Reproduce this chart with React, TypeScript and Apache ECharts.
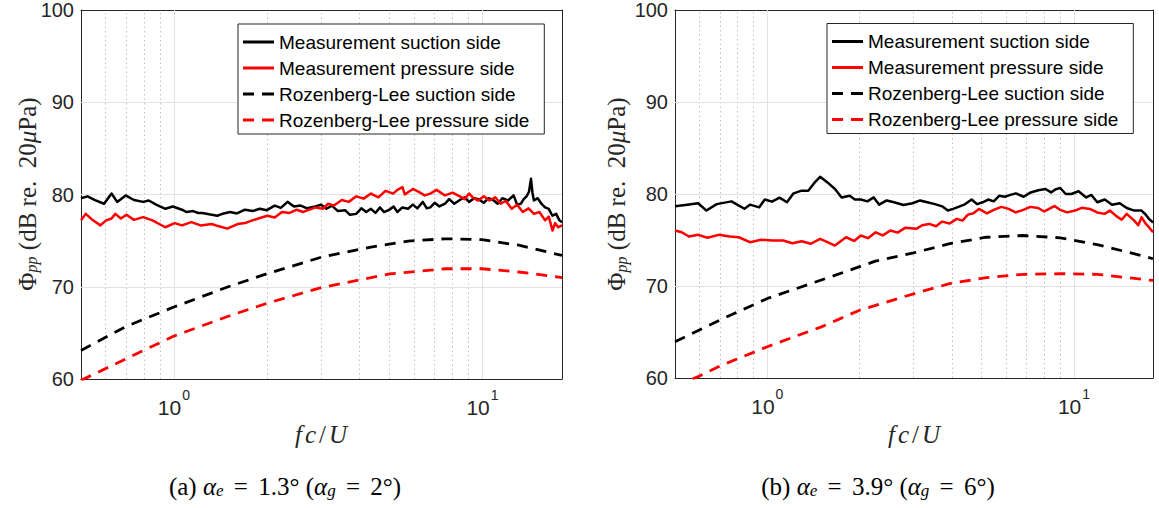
import React, { useEffect, useRef } from 'react';
import * as echarts from 'echarts';

type Pt = [number, number];

const SERIES_NAMES = [
  'Measurement suction side',
  'Measurement pressure side',
  'Rozenberg-Lee suction side',
  'Rozenberg-Lee pressure side',
];

const X_MIN = 0.5;
const X_MAX = 18.1;
const Y_MIN = 60;
const Y_MAX = 100;
const Y_STEP = 10;
const Y_MAJOR = [70, 80, 90];
const X_MAJOR = [1, 10];
const X_MINOR = [0.6, 0.7, 0.8, 0.9, 2, 3, 4, 5, 6, 7, 8, 9];

// ---- panel (a) ----
const measSuctionA: Pt[] = [
  [0.5, 79.6], [0.525, 79.8], [0.555, 79.4], [0.594, 79.0], [0.628, 80.1], [0.655, 79.2], [0.698, 79.9],
  [0.742, 79.4], [0.795, 79.2], [0.829, 79.35], [0.876, 78.9], [0.938, 78.45], [0.992, 78.7], [1.062, 78.35],
  [1.1, 78.1], [1.154, 78.2], [1.2, 78.0], [1.237, 78.0], [1.3, 77.85], [1.382, 77.7], [1.45, 77.95],
  [1.522, 78.1], [1.6, 77.95], [1.7, 78.35], [1.8, 78.2], [1.898, 78.45], [2.0, 78.3], [2.122, 78.8],
  [2.22, 78.55], [2.335, 79.2], [2.45, 78.7], [2.574, 78.8], [2.7, 78.5], [2.873, 78.7], [3.0, 78.9],
  [3.122, 78.45], [3.25, 78.8], [3.4, 78.2], [3.586, 78.3], [3.72, 77.8], [3.896, 77.9], [4.05, 78.5],
  [4.2, 78.1], [4.35, 78.45], [4.5, 78.0], [4.65, 78.6], [4.8, 78.1], [4.996, 78.35], [5.15, 78.7],
  [5.3, 78.1], [5.5, 78.6], [5.738, 78.45], [5.95, 78.9], [6.15, 78.5], [6.408, 79.2], [6.6, 78.5],
  [6.773, 78.6], [7.0, 79.1], [7.25, 78.7], [7.561, 79.0], [7.8, 79.5], [8.1, 79.0], [8.444, 79.4],
  [8.75, 79.7], [9.05, 79.2], [9.4, 79.6], [9.698, 79.5], [10.1, 79.1], [10.45, 79.6], [10.83, 79.4],
  [11.2, 79.0], [11.6, 79.6], [12.1, 79.35], [12.61, 79.9], [12.95, 78.9], [13.32, 79.0], [13.6, 79.5],
  [13.89, 79.8], [14.15, 80.3], [14.36, 81.7], [14.52, 80.2], [14.68, 79.35], [15.1, 79.6], [15.52, 79.0],
  [15.95, 78.6], [16.39, 78.45], [16.85, 77.7], [17.33, 77.9], [17.75, 77.2], [18.1, 77.0],
];
const measPressureA: Pt[] = [
  [0.5, 77.2], [0.518, 77.9], [0.547, 77.2], [0.578, 76.65], [0.603, 77.2], [0.628, 77.4], [0.646, 77.9],
  [0.673, 77.4], [0.702, 77.8], [0.742, 77.25], [0.795, 77.55], [0.852, 77.2], [0.938, 76.45], [1.006, 76.9],
  [1.062, 76.65], [1.139, 77.0], [1.22, 76.65], [1.326, 76.8], [1.4, 76.55], [1.489, 76.3], [1.608, 76.8],
  [1.7, 76.9], [1.797, 77.2], [1.9, 77.45], [2.007, 77.7], [2.12, 77.5], [2.241, 78.1], [2.37, 78.0],
  [2.504, 78.35], [2.62, 78.1], [2.72, 78.3], [2.88, 78.6], [3.038, 78.45], [3.16, 79.0], [3.3, 78.8],
  [3.5, 79.4], [3.686, 79.2], [3.9, 79.8], [4.119, 79.55], [4.35, 80.1], [4.599, 79.7], [4.85, 80.4],
  [5.135, 80.1], [5.3, 80.5], [5.504, 80.8], [5.6, 80.0], [5.738, 80.25], [5.95, 80.6], [6.232, 80.25],
  [6.5, 79.9], [6.773, 80.1], [7.1, 80.5], [7.561, 79.9], [8.0, 80.2], [8.444, 79.8], [8.75, 79.5],
  [9.052, 80.1], [9.35, 79.6], [9.698, 79.35], [10.1, 79.8], [10.54, 79.35], [11.0, 79.7], [11.45, 79.0],
  [11.9, 79.3], [12.44, 78.45], [12.95, 78.9], [13.51, 78.1], [14.1, 78.5], [14.68, 77.9], [15.3, 78.1],
  [15.95, 77.2], [16.4, 77.6], [16.86, 76.1], [17.2, 76.9], [17.58, 76.45], [18.1, 76.65],
];
const rlSuctionA: Pt[] = [
  [0.5, 63.1], [0.7, 65.7], [1.0, 67.8], [1.5, 70.0], [2.0, 71.4], [3.0, 73.2], [4.35, 74.3],
  [5.74, 74.95], [7.56, 75.2], [9.96, 75.1], [13.1, 74.5], [18.1, 73.4],
];
const rlPressureA: Pt[] = [
  [0.5, 59.85], [0.7, 62.2], [1.0, 64.65], [1.5, 66.8], [2.0, 68.2], [3.0, 69.9], [5.0, 71.4],
  [7.56, 71.95], [9.96, 71.95], [13.1, 71.6], [18.1, 71.0],
];

// ---- panel (b) ----
const measSuctionB: Pt[] = [
  [0.5, 78.66], [0.548, 78.84], [0.595, 79.0], [0.633, 78.2], [0.684, 78.9], [0.764, 79.2], [0.842, 78.4],
  [0.878, 78.84], [0.941, 78.55], [0.981, 79.4], [1.036, 79.17], [1.096, 79.6], [1.159, 79.1], [1.218, 80.07],
  [1.294, 80.36], [1.36, 80.36], [1.427, 81.26], [1.487, 81.87], [1.571, 81.26], [1.662, 80.54], [1.747, 79.63],
  [1.856, 79.8], [1.93, 79.4], [2.017, 79.4], [2.12, 79.2], [2.223, 79.63], [2.317, 78.84], [2.45, 79.3],
  [2.589, 79.1], [2.78, 78.8], [2.975, 79.0], [3.15, 79.3], [3.323, 79.1], [3.52, 78.9], [3.715, 78.66],
  [3.88, 78.2], [4.038, 78.38], [4.2, 78.6], [4.387, 78.84], [4.636, 79.4], [4.83, 78.9], [5.038, 79.1],
  [5.25, 79.4], [5.474, 79.2], [5.7, 79.8], [5.951, 79.7], [6.2, 79.9], [6.466, 80.07], [6.85, 79.7],
  [7.228, 80.17], [7.65, 80.4], [8.073, 80.54], [8.417, 80.17], [8.7, 80.5], [9.02, 80.65], [9.4, 80.0],
  [9.802, 80.0], [10.35, 80.3], [10.96, 79.63], [11.4, 79.9], [11.91, 79.1], [12.6, 79.4], [13.3, 78.84],
  [14.1, 79.0], [14.86, 78.48], [15.72, 78.2], [16.61, 78.2], [17.1, 77.8], [17.55, 77.3], [18.1, 76.9],
];
const measPressureB: Pt[] = [
  [0.5, 76.03], [0.526, 75.84], [0.555, 75.38], [0.595, 75.56], [0.638, 75.24], [0.694, 75.56], [0.754, 75.38],
  [0.807, 75.3], [0.878, 74.76], [0.954, 75.02], [1.036, 74.95], [1.126, 74.95], [1.208, 74.65], [1.294, 74.87],
  [1.387, 74.59], [1.487, 75.13], [1.571, 74.76], [1.662, 74.4], [1.806, 75.3], [1.92, 74.9], [2.017, 75.49],
  [2.13, 75.2], [2.255, 75.84], [2.38, 75.5], [2.519, 76.03], [2.66, 75.8], [2.813, 76.32], [3.058, 76.21],
  [3.2, 76.6], [3.372, 76.75], [3.55, 76.5], [3.715, 77.0], [3.93, 76.8], [4.15, 77.3], [4.33, 77.1],
  [4.51, 77.76], [4.7, 77.9], [4.901, 78.38], [5.2, 77.9], [5.474, 78.27], [5.8, 78.6], [6.121, 78.38],
  [6.45, 78.0], [6.837, 78.27], [7.2, 78.6], [7.637, 78.48], [8.0, 78.1], [8.3, 78.38], [8.65, 78.7],
  [9.02, 78.27], [9.5, 78.0], [10.08, 78.2], [10.6, 78.5], [11.27, 78.38], [11.9, 78.0], [12.58, 77.84],
  [13.1, 78.2], [13.68, 77.65], [14.3, 77.2], [14.86, 77.84], [15.72, 77.1], [16.2, 76.6], [16.61, 77.47],
  [17.1, 76.8], [17.55, 76.39], [18.1, 75.84],
];
const rlSuctionB: Pt[] = [
  [0.5, 63.94], [0.7, 66.3], [1.0, 68.64], [1.5, 70.65], [2.0, 72.1], [2.25, 72.7], [3.0, 73.6],
  [3.93, 74.6], [5.18, 75.3], [6.84, 75.49], [9.02, 75.24], [11.9, 74.5], [17.1, 73.2], [18.1, 72.96],
];
const rlPressureB: Pt[] = [
  [0.5, 59.06], [0.595, 60.15], [0.7, 61.3], [1.0, 63.4], [1.5, 65.56], [2.0, 67.37], [3.02, 69.18],
  [3.93, 70.26], [5.18, 70.9], [6.84, 71.27], [9.02, 71.34], [11.9, 71.27], [18.1, 70.6],
];

const PANELS = [
  { data: [measSuctionA, measPressureA, rlSuctionA, rlPressureA], tag: '(a)', ae: '1.3', ag: '2' },
  { data: [measSuctionB, measPressureB, rlSuctionB, rlPressureB], tag: '(b)', ae: '3.9', ag: '6' },
];

const LAYOUT = [
  { grid: { left: 81, top: 9, width: 481, height: 370 }, legend: { left: 238, top: 24 }, yName: [22.5, 194], xName: [321, 434], sub: [285, 483] },
  { grid: { left: 675, top: 8.5, width: 478, height: 369.5 }, legend: { left: 827, top: 23.5 }, yName: [612, 194], xName: [914, 434], sub: [878, 483] },
];

const SANS = '"Liberation Sans", Arial, Helvetica, sans-serif';
const SERIF = '"Liberation Serif", "Times New Roman", serif';
const AXIS_COLOR = '#262626';
const COLORS = ['#000000', '#ff0000', '#000000', '#ff0000'];
const DASHED = [false, false, true, true];
const ICON_SOLID = 'path://M0,0H31V3H0Z';
const ICON_DASHED = 'path://M0,0H11V3H0Z M19,0H31V3H19Z';

function buildOption() {
  const grid: any[] = [];
  const xAxis: any[] = [];
  const yAxis: any[] = [];
  const series: any[] = [];
  const legend: any[] = [];
  const graphic: any[] = [];

  PANELS.forEach((panel, p) => {
    const L = LAYOUT[p];
    grid.push({ ...L.grid, containLabel: false });
    const logBase = {
      type: 'log', logBase: 10, min: X_MIN, max: X_MAX, gridIndex: p,
      axisLine: { show: true, lineStyle: { color: AXIS_COLOR, width: 1 } },
      axisTick: { show: true, inside: true, length: 6, lineStyle: { color: AXIS_COLOR } },
      splitLine: { show: false },
      minorTick: { show: false },
    };
    xAxis.push({
      ...logBase, position: 'bottom',
      axisLabel: {
        show: true, showMinLabel: false, showMaxLabel: false, margin: 9, color: AXIS_COLOR,
        formatter: (v: number) => `{b|10}{s|${Math.round(Math.log10(v))}}`,
        rich: {
          b: { fontFamily: SANS, fontSize: 21, lineHeight: 30, color: AXIS_COLOR, verticalAlign: 'bottom' },
          s: { fontFamily: SANS, fontSize: 14, lineHeight: 14, color: AXIS_COLOR, verticalAlign: 'top', padding: [0, 0, 0, 1] },
        },
      },
    });
    xAxis.push({ ...logBase, position: 'top', axisLabel: { show: false } });
    const yBase = {
      type: 'value', min: Y_MIN, max: Y_MAX, interval: Y_STEP, gridIndex: p,
      axisLine: { show: true, lineStyle: { color: AXIS_COLOR, width: 1 } },
      axisTick: { show: true, inside: true, length: 6, lineStyle: { color: AXIS_COLOR } },
      splitLine: { show: false },
    };
    yAxis.push({
      ...yBase, position: 'left',
      axisLabel: { show: true, margin: 7, color: AXIS_COLOR, fontFamily: SANS, fontSize: 20 },
    });
    yAxis.push({ ...yBase, position: 'right', axisLabel: { show: false } });

    const xi = p * 2;
    const yi = p * 2;
    series.push({
      type: 'line', name: 'grid-helper-' + p, xAxisIndex: xi, yAxisIndex: yi, data: [], silent: true,
      symbol: 'none',
      markLine: {
        silent: true, symbol: ['none', 'none'], label: { show: false }, z: 1, animation: false,
        emphasis: { disabled: true },
        data: [
          ...X_MINOR.map((v) => ({ xAxis: v, lineStyle: { color: '#c2c2c2', width: 1, type: [1.5, 3] } })),
          ...X_MAJOR.map((v) => ({ xAxis: v, lineStyle: { color: '#e2e2e2', width: 1, type: 'solid' } })),
          ...Y_MAJOR.map((v) => ({ yAxis: v, lineStyle: { color: '#e2e2e2', width: 1, type: 'solid' } })),
        ],
      },
    });
    panel.data.forEach((d, k) => {
      series.push({
        type: 'line', name: SERIES_NAMES[k], xAxisIndex: xi, yAxisIndex: yi, data: d,
        symbol: 'none', showSymbol: false, clip: true, z: 2 + k * 0.1,
        lineStyle: { color: COLORS[k], width: DASHED[k] ? 2.8 : 2.5, type: DASHED[k] ? [11, 8] : 'solid', join: 'round' },
        itemStyle: { color: COLORS[k] },
        emphasis: { disabled: true },
      });
    });

    legend.push({
      show: true, orient: 'vertical', left: L.legend.left, top: L.legend.top,
      data: SERIES_NAMES.map((name, k) => ({
        name,
        icon: DASHED[k] ? ICON_DASHED : ICON_SOLID,
        itemStyle: { color: COLORS[k], borderWidth: 0 },
        lineStyle: { width: 0 },
      })),
      itemWidth: 31, itemHeight: 3, itemGap: 6,
      padding: [8, 15, 4, 5], borderColor: AXIS_COLOR, borderWidth: 1, backgroundColor: '#ffffff',
      borderRadius: 0, selectedMode: false, z: 10,
      textStyle: { fontFamily: SANS, fontSize: 19, lineHeight: 20, color: '#000000' },
    });

    const serifRich = {
      n: { fontFamily: SERIF, fontSize: 25, lineHeight: 34, color: AXIS_COLOR, verticalAlign: 'bottom' },
      i: { fontFamily: SERIF, fontStyle: 'italic', fontSize: 25, lineHeight: 34, color: AXIS_COLOR, verticalAlign: 'bottom' },
      sub: { fontFamily: SERIF, fontStyle: 'italic', fontSize: 16, lineHeight: 16, color: AXIS_COLOR, verticalAlign: 'bottom' },
    };
    graphic.push({
      type: 'text', x: L.yName[0], y: L.yName[1], rotation: Math.PI / 2, silent: true,
      style: {
        text: '{n|Φ}{sub|pp}{n| (dB re.  20}{i|μ}{n|Pa)}', rich: serifRich,
        align: 'center', verticalAlign: 'middle', fill: AXIS_COLOR,
      },
    });
    graphic.push({
      type: 'text', x: L.xName[0], y: L.xName[1], silent: true,
      style: {
        text: '{i|f}{i|c}{n|/}{i|U}',
        rich: {
          i: { fontFamily: SERIF, fontStyle: 'italic', fontSize: 25, color: AXIS_COLOR, padding: [0, 1.5, 0, 1.5] },
          n: { fontFamily: SERIF, fontSize: 25, color: AXIS_COLOR, padding: [0, 1.5, 0, 1.5] },
        },
        align: 'center', verticalAlign: 'middle', fill: AXIS_COLOR,
      },
    });
    const subRich = {
      n: { fontFamily: SERIF, fontSize: 25, lineHeight: 32, color: '#000', verticalAlign: 'bottom' },
      eq: { fontFamily: SERIF, fontSize: 25, lineHeight: 32, color: '#000', verticalAlign: 'bottom', padding: [0, 4, 0, 4] },
      i: { fontFamily: SERIF, fontStyle: 'italic', fontSize: 25, lineHeight: 32, color: '#000', verticalAlign: 'bottom' },
      sub: { fontFamily: SERIF, fontStyle: 'italic', fontSize: 17, lineHeight: 17, color: '#000', verticalAlign: 'bottom' },
    };
    graphic.push({
      type: 'text', x: L.sub[0], y: L.sub[1], silent: true,
      style: {
        text: `{n|${panel.tag} }{i|α}{sub|e}{eq| = }{n|${panel.ae}° (}{i|α}{sub|g}{eq| = }{n|${panel.ag}°)}`,
        rich: subRich, align: 'center', verticalAlign: 'middle', fill: '#000',
      },
    });
  });

  return {
    animation: false,
    backgroundColor: '#ffffff',
    grid, xAxis, yAxis, series, legend, graphic,
  };
}

export default function App() {
  const ref = useRef<HTMLDivElement | null>(null);
  useEffect(() => {
    if (!ref.current) return;
    const chart = echarts.init(ref.current, undefined, { renderer: 'svg' });
    chart.setOption(buildOption() as any);
    return () => chart.dispose();
  }, []);
  return (
    <div
      ref={ref}
      style={{ position: 'fixed', left: 0, top: 0, width: 1159, height: 508, background: '#fff' }}
    />
  );
}
